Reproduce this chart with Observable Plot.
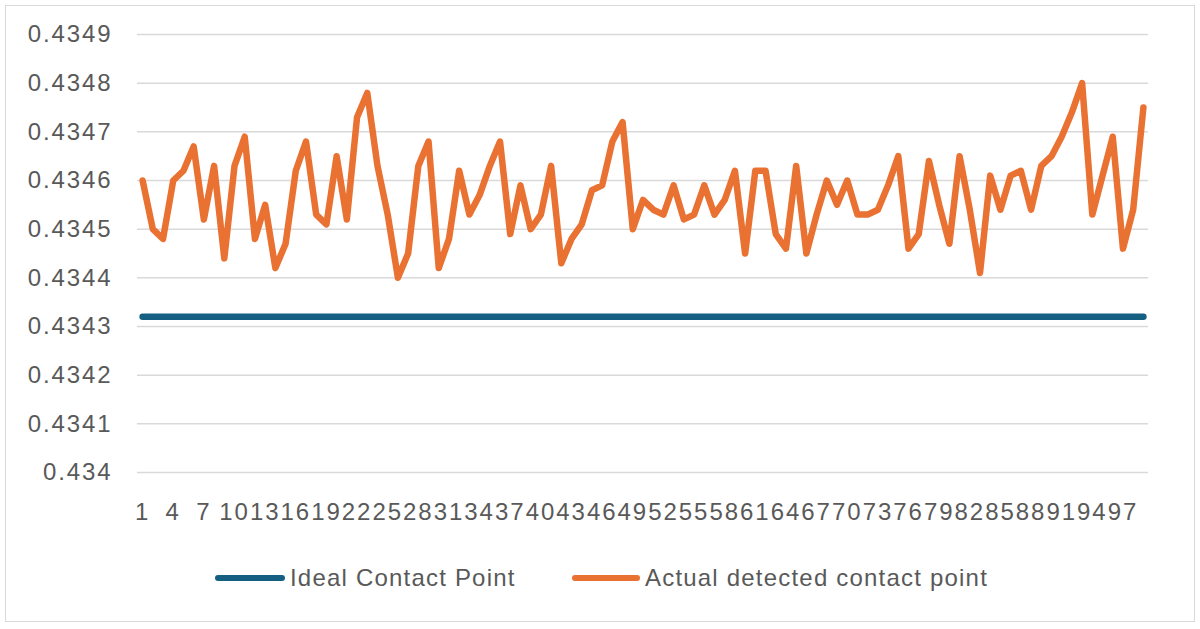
<!DOCTYPE html>
<html>
<head>
<meta charset="utf-8">
<script src="https://cdn.jsdelivr.net/npm/d3@7"></script>
<script src="https://cdn.jsdelivr.net/npm/@observablehq/plot@0.6"></script>
<style>
  html, body { margin: 0; padding: 0; background: #fff; }
  body { font-family: "Liberation Sans", Arial, sans-serif; }
  #wrap { position: relative; width: 1200px; height: 629px; overflow: hidden; }
  #border { position: absolute; left: 5px; top: 5px; width: 1188px; height: 615px; border: 1.5px solid #d9d9d9; pointer-events: none; }
  #chart svg { display: block; }
  #legend { position: relative; height: 89px; }
  .sw { position: absolute; top: 35px; height: 6px; border-radius: 3px; }
  .lt { position: absolute; top: 24px; font-size: 24px; line-height: 28px; letter-spacing: 1.2px; color: #595959; white-space: nowrap; }
</style>
</head>
<body>
<div id="wrap">
  <div id="chart"></div>
  <div id="legend"></div>
  <div id="border"></div>
</div>
<script>
// Category labels (sample index)
const categories = d3.range(1, 100);
const xTickLabels = [1, 4, 7, 10, 13, 16, 19, 22, 25, 28, 31, 34, 37, 40, 43, 46, 49, 52, 55, 58, 61, 64, 67, 70, 73, 76, 79, 82, 85, 88, 91, 94, 97];
const yTickValues = [0.434, 0.4341, 0.4342, 0.4343, 0.4344, 0.4345, 0.4346, 0.4347, 0.4348, 0.4349];

// Series
const seriesNames = ["Ideal Contact Point", "Actual detected contact point"];
const seriesColors = ["#156082", "#E97132"];
const idealValue = 0.43432;
const actualValues = [
  0.43460, 0.43450, 0.43448, 0.43460, 0.43462, 0.43467, 0.43452, 0.43463, 0.43444, 0.43463,
  0.43469, 0.43448, 0.43455, 0.43442, 0.43447, 0.43462, 0.43468, 0.43453, 0.43451, 0.43465,
  0.43452, 0.43473, 0.43478, 0.43463, 0.43453, 0.43440, 0.43445, 0.43463, 0.43468, 0.43442,
  0.43448, 0.43462, 0.43453, 0.43457, 0.43463, 0.43468, 0.43449, 0.43459, 0.43450, 0.43453,
  0.43463, 0.43443, 0.43448, 0.43451, 0.43458, 0.43459, 0.43468, 0.43472, 0.43450, 0.43456,
  0.43454, 0.43453, 0.43459, 0.43452, 0.43453, 0.43459, 0.43453, 0.43456, 0.43462, 0.43445,
  0.43462, 0.43462, 0.43449, 0.43446, 0.43463, 0.43445, 0.43453, 0.43460, 0.43455, 0.43460,
  0.43453, 0.43453, 0.43454, 0.43459, 0.43465, 0.43446, 0.43449, 0.43464, 0.43455, 0.43447,
  0.43465, 0.43454, 0.43441, 0.43461, 0.43454, 0.43461, 0.43462, 0.43454, 0.43463, 0.43465,
  0.43469, 0.43474, 0.43480, 0.43453, 0.43461, 0.43469, 0.43446, 0.43454, 0.43475
];

const idealRows = categories.map(c => ({cat: c, value: idealValue}));
const actualRows = categories.map((c, i) => ({cat: c, value: actualValues[i]}));

const fontFamily = '"Liberation Sans", Arial, sans-serif';

const chart = Plot.plot({
  width: 1200,
  height: 540,
  marginLeft: 137,
  marginRight: 52,
  marginTop: 34,
  marginBottom: 68,
  style: { fontFamily, fontSize: "24px", color: "#595959", background: "transparent", letterSpacing: "1.9px" },
  x: { type: "point", domain: categories, padding: 0.5, round: false, label: null, axis: null },
  y: { domain: [0.434, 0.4349], label: null, axis: null },
  marks: [
    Plot.gridY(yTickValues, { stroke: "#d9d9d9", strokeOpacity: 1, strokeWidth: 1.5 }),
    Plot.axisY(yTickValues, {
      tickSize: 0, tickPadding: 25, label: null,
      tickFormat: d => String(+d.toFixed(4)), fill: "#595959"
    }),
    Plot.axisX(xTickLabels, {
      tickSize: 0, tickPadding: 30, label: null,
      tickFormat: d => String(d), fill: "#595959"
    }),
    Plot.line(idealRows, { x: "cat", y: "value", stroke: seriesColors[0], strokeWidth: 6.5, strokeLinecap: "round", strokeLinejoin: "round" }),
    Plot.line(actualRows, { x: "cat", y: "value", stroke: seriesColors[1], strokeWidth: 6.5, strokeLinecap: "round", strokeLinejoin: "round" })
  ]
});
document.getElementById("chart").appendChild(chart);

// Legend
const legend = document.getElementById("legend");
const legendPos = [{sw: 215, w: 70, tx: 290}, {sw: 572, w: 68, tx: 645}];
seriesNames.forEach((name, i) => {
  const sw = document.createElement("div");
  sw.className = "sw";
  sw.style.left = legendPos[i].sw + "px";
  sw.style.width = legendPos[i].w + "px";
  sw.style.background = seriesColors[i];
  legend.appendChild(sw);
  const t = document.createElement("div");
  t.className = "lt";
  t.style.left = legendPos[i].tx + "px";
  t.textContent = name;
  legend.appendChild(t);
});
</script>
</body>
</html>
